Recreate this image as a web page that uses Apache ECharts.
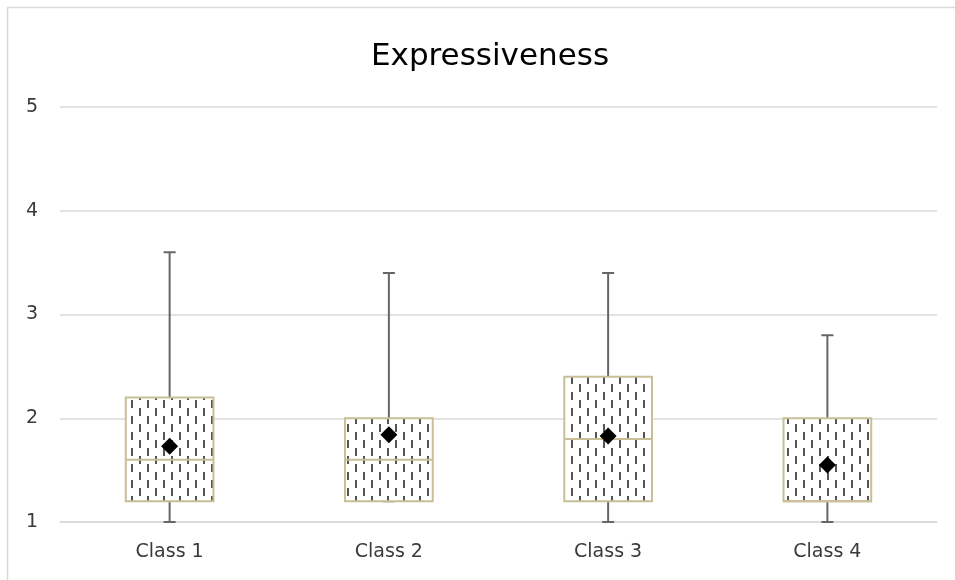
<!DOCTYPE html>
<html>
<head>
<meta charset="utf-8">
<script src="https://cdn.jsdelivr.net/npm/echarts@6/dist/echarts.min.js"></script>
<style>
html,body{margin:0;padding:0;background:#fff;}
#chart{width:955px;height:580px;}
</style>
</head>
<body>
<div id="chart"></div>
<script>
const categories = ['Class 1', 'Class 2', 'Class 3', 'Class 4'];
const minVals = [1.0, 1.2, 1.0, 1.0];
const q1Vals = [1.2, 1.2, 1.2, 1.2];
const medianVals = [1.6, 1.6, 1.8, 1.2];
const q3Vals = [2.2, 2.0, 2.4, 2.0];
const maxVals = [3.6, 3.4, 3.4, 2.8];
const meanVals = [1.73, 1.84, 1.83, 1.55];
const yTicks = [1, 2, 3, 4, 5];

const FONT = 'DejaVu Sans';

// dashed vertical fill pattern
const pat = document.createElement('canvas');
pat.width = 16; pat.height = 16;
const pc = pat.getContext('2d');
pc.fillStyle = '#ffffff';
pc.fillRect(0, 0, 16, 16);
pc.fillStyle = '#555555';
pc.fillRect(3, 0, 2, 8);
pc.fillRect(11, 8, 2, 8);

const boxData = categories.map((c, i) => [i, minVals[i], q1Vals[i], medianVals[i], q3Vals[i], maxVals[i]]);
const meanData = categories.map((c, i) => [i, meanVals[i]]);

const chart = echarts.init(document.getElementById('chart'));
chart.setOption({
  animation: false,
  backgroundColor: '#ffffff',
  title: {
    text: 'Expressiveness',
    left: 485, top: 36, textAlign: 'center',
    textStyle: { fontFamily: FONT, fontSize: 31, fontWeight: 'normal', color: '#000000' }
  },
  graphic: [{
    type: 'rect', silent: true,
    shape: { x: 7.5, y: 7.5, width: 980, height: 620 },
    style: { fill: 'none', stroke: '#d9d9d9', lineWidth: 1.5 }
  }],
  grid: { left: 60, right: 18, top: 107, bottom: 58 },
  xAxis: {
    type: 'category',
    data: categories,
    axisLine: { show: true, lineStyle: { color: '#d9d9d9', width: 1.5 } },
    axisTick: { show: false },
    axisLabel: { color: '#3a3a3a', fontFamily: FONT, fontSize: 19, margin: 21 },
    splitLine: { show: false }
  },
  yAxis: {
    type: 'value',
    min: yTicks[0], max: yTicks[yTicks.length - 1], interval: 1,
    axisLine: { show: false },
    axisTick: { show: false },
    axisLabel: { color: '#3a3a3a', fontFamily: FONT, fontSize: 19, margin: 22 },
    splitLine: { lineStyle: { color: '#d9d9d9', width: 1.5 } }
  },
  series: [
    {
      type: 'custom',
      data: boxData,
      encode: { x: 0, y: [1, 2, 3, 4, 5] },
      z: 2,
      renderItem: function (params, api) {
        const idx = api.value(0);
        const pMin = api.coord([idx, api.value(1)]);
        const pQ1 = api.coord([idx, api.value(2)]);
        const pMed = api.coord([idx, api.value(3)]);
        const pQ3 = api.coord([idx, api.value(4)]);
        const pMax = api.coord([idx, api.value(5)]);
        const band = api.size([1, 0])[0];
        const w = band * 0.4;
        const x = pMin[0];
        const cap = 6;
        const wStyle = { stroke: '#666666', lineWidth: 2, fill: null };
        const tan = '#c8bf97';
        return {
          type: 'group',
          children: [
            { type: 'line', shape: { x1: x, y1: pMax[1], x2: x, y2: pQ3[1] }, style: wStyle },
            { type: 'line', shape: { x1: x - cap, y1: pMax[1], x2: x + cap, y2: pMax[1] }, style: wStyle },
            { type: 'line', shape: { x1: x, y1: pQ1[1], x2: x, y2: pMin[1] }, style: wStyle },
            { type: 'line', shape: { x1: x - cap, y1: pMin[1], x2: x + cap, y2: pMin[1] }, style: wStyle },
            { type: 'rect', shape: { x: x - w / 2, y: pQ3[1], width: w, height: pQ1[1] - pQ3[1] },
              style: { fill: { image: pat, repeat: 'repeat' }, stroke: tan, lineWidth: 2 } },
            { type: 'line', shape: { x1: x - w / 2, y1: pMed[1], x2: x + w / 2, y2: pMed[1] },
              style: { stroke: tan, lineWidth: 2 } }
          ]
        };
      }
    },
    {
      type: 'scatter',
      data: meanData,
      symbol: 'diamond',
      symbolSize: [17, 17],
      z: 3,
      itemStyle: { color: '#000000', opacity: 1 }
    }
  ]
});
</script>
</body>
</html>
